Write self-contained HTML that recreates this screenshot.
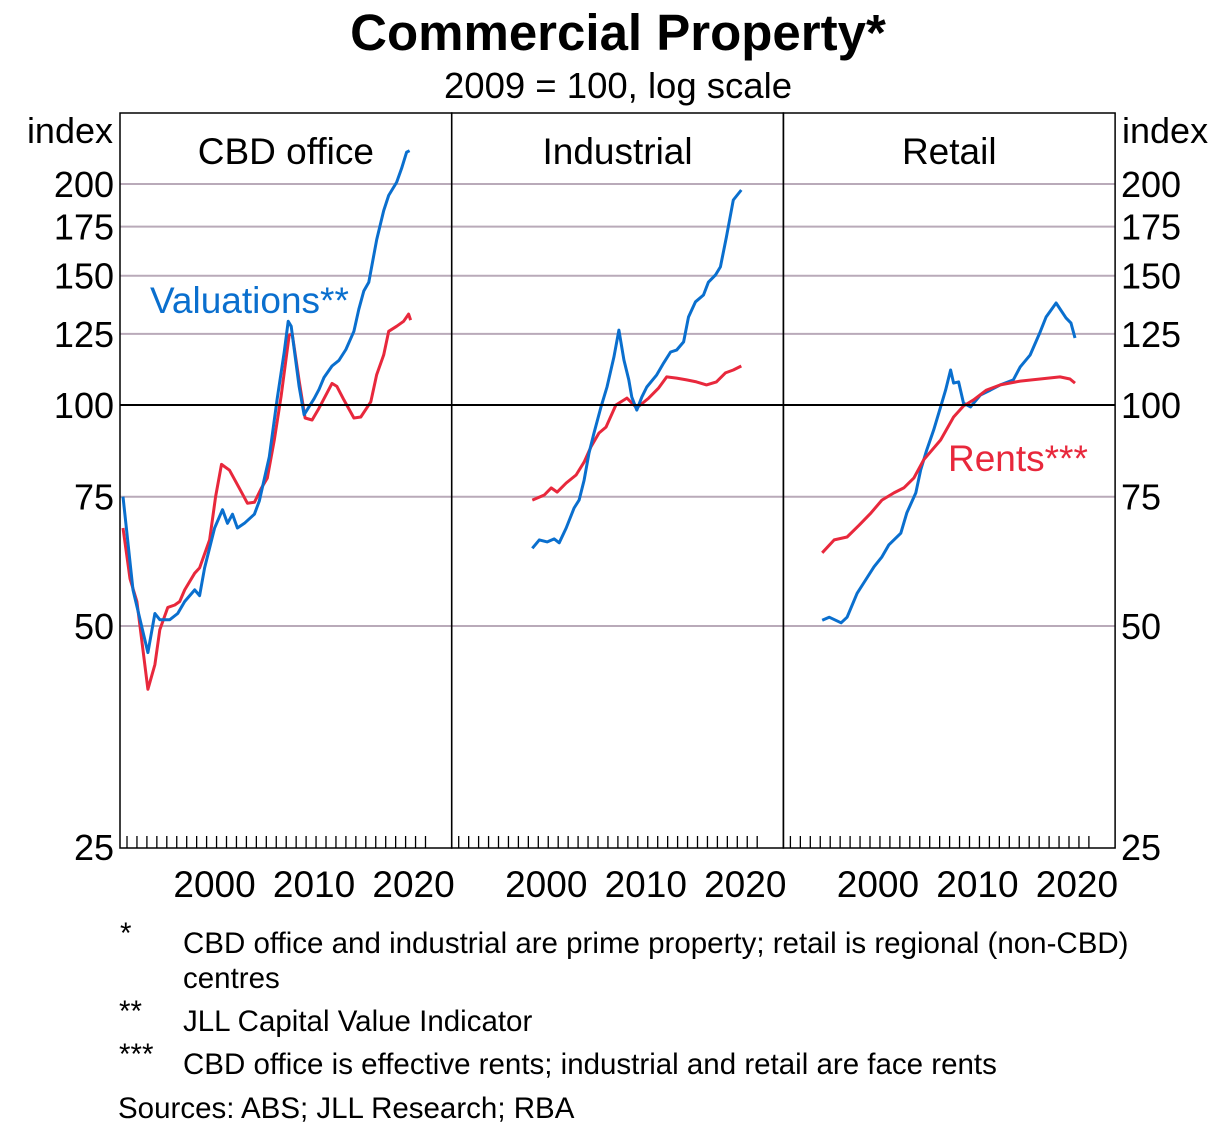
<!DOCTYPE html>
<html><head><meta charset="utf-8"><style>
body{margin:0;background:#fff;}
svg{display:block;font-family:"Liberation Sans",Arial,sans-serif;}
</style></head><body>
<svg id="chart" width="1224" height="1133" viewBox="0 0 1224 1133" xmlns="http://www.w3.org/2000/svg">
<text x="618" y="50" font-size="51" font-weight="bold" text-anchor="middle">Commercial Property*</text>
<text x="618" y="98" font-size="36.5" text-anchor="middle">2009 = 100, log scale</text>
<text x="113" y="143" font-size="36" text-anchor="end">index</text>
<text x="1122" y="143" font-size="36">index</text>
<g id="grid"></g>
<g id="series"></g>
<g id="frame"></g>
<text x="150" y="313" font-size="37" fill="#0a6fce">Valuations**</text>
<text x="948" y="471" font-size="37" fill="#e8283c">Rents***</text>
<g font-size="29.5">
<text x="120" y="943">*</text>
<text x="183" y="953">CBD office and industrial are prime property; retail is regional (non-CBD)</text>
<text x="183" y="988">centres</text>
<text x="119" y="1021">**</text>
<text x="183" y="1031">JLL Capital Value Indicator</text>
<text x="119" y="1064">***</text>
<text x="183" y="1074">CBD office is effective rents; industrial and retail are face rents</text>
<text x="118" y="1118">Sources: ABS; JLL Research; RBA</text>
</g>
</svg>
<script>
const yTicks=[25,50,75,100,125,150,175,200];
const panelTitles=["CBD office","Industrial","Retail"];
const yearLabels=[2000,2010,2020];
const cbdValYears=[1990.6,1991.6,1993.1,1993.8,1994.3,1995.3,1996.1,1996.8,1997.8,1998.3,1998.8,1999.8,2000.6,2001.1,2001.6,2002.1,2002.8,2003.8,2004.3,2005.3,2006.1,2006.8,2007.2,2007.5,2008.3,2008.8,2009.8,2010.3,2010.8,2011.6,2012.3,2013,2013.8,2014.3,2014.8,2015.3,2016.1,2016.8,2017.3,2018.1,2018.6,2019.1,2019.4];
const cbdVal=[75,56,46,52,51,51,52,54,56,55,60,68,72,69,71,68,69,71,74,85,102,118,130,128,106,97,102,105,109,113,115,119,126,135,143,147,168,184,193,201,210,221,222];
const cbdRentYears=[1990.6,1991.3,1992,1993.1,1993.8,1994.3,1995.1,1995.8,1996.3,1996.8,1997.8,1998.3,1999.3,1999.9,2000.5,2001.3,2002.3,2003.1,2003.8,2004.5,2005.1,2005.8,2006.5,2007.3,2007.6,2008.3,2008.9,2009.6,2010.3,2011.6,2012.1,2012.8,2013.8,2014.5,2015.5,2016.1,2016.8,2017.3,2018.1,2018.8,2019.3,2019.5];
const cbdRent=[68,58,54,41,44.3,49.4,53,53.4,54,56,59,60,65.5,75,83,81.5,77,73.5,73.7,77,79.5,89.6,103,124.5,125,108,96,95.4,99,107,106,101.6,96,96.3,101,110,117,126,128,130,133,130.5];
const indValYears=[1998.4,1999.1,1999.9,2000.6,2001.1,2001.8,2002.6,2003.1,2003.6,2004.1,2004.6,2005.3,2005.9,2006.6,2007.1,2007.6,2008.1,2008.4,2008.9,2009.4,2009.9,2010.9,2011.6,2012.3,2012.9,2013.6,2014.1,2014.8,2015.6,2016.1,2016.8,2017.3,2017.9,2018.6,2019.4];
const indVal=[63.8,65.5,65.1,65.7,64.9,68,72.4,74.2,79,86,91.6,99.4,105.8,116.2,126.5,115.2,108.2,102.5,98.4,102.5,105.8,109.9,114.1,118.1,118.8,121.9,131.8,138.2,141.2,147,150.3,154.2,169.3,190.2,196.3];
const indRentYears=[1998.4,1999.6,2000.3,2000.9,2001.8,2002.8,2003.6,2004.3,2005.1,2005.8,2006.8,2007.9,2008.9,2010.1,2011.1,2011.9,2012.9,2013.9,2014.9,2015.9,2016.9,2017.8,2018.6,2019.4];
const indRent=[74.2,75.4,77.1,76.1,78.3,80.3,83.6,87.7,91.6,93.3,100,102.2,99.1,102.2,105.5,109.2,108.8,108.2,107.5,106.5,107.5,110.6,111.6,113];
const retValYears=[1994.2,1994.9,1996.1,1996.7,1997.7,1998.4,1999.4,2000.2,2000.9,2002.1,2002.7,2003.6,2004.1,2004.7,2005.4,2006.1,2006.6,2007.1,2007.4,2007.9,2008.4,2009.1,2010.1,2011.1,2012.1,2013.4,2014.1,2015.1,2016.1,2016.7,2017.7,2018.7,2019.2,2019.6];
const retVal=[50.9,51.4,50.5,51.4,55.4,57.3,60.2,62.1,64.5,66.9,71.3,75.9,81.6,86.8,92.5,99.4,104.8,111.6,107.1,107.5,100.6,99.4,103.2,104.8,106.5,108.2,112.7,117,125.7,131.8,137.7,131.4,129.3,123.4];
const retRentYears=[1994.2,1995.4,1996.7,1997.9,1999.1,2000.2,2001.4,2002.4,2003.4,2004.4,2006.1,2007.4,2008.4,2009.4,2010.7,2012.1,2014.1,2016.1,2018.1,2019.1,2019.6];
const retRent=[62.9,65.5,66.1,68.6,71.3,74.2,75.9,77.1,79.5,84.2,89.6,96.3,99.7,101.6,104.8,106.5,107.8,108.5,109.2,108.5,107.1];

const NS="http://www.w3.org/2000/svg";
const L=120,T=113,B=848,PW=331.7;
function yScale(v){return 405-221*Math.log2(v/100);}
function xScale(p,yr){return L+p*PW+7+(yr-1991)*9.95;}
function mk(tag,attrs,parent){const e=document.createElementNS(NS,tag);for(const k in attrs)e.setAttribute(k,attrs[k]);parent.appendChild(e);return e;}
const grid=document.getElementById('grid'),series=document.getElementById('series'),frame=document.getElementById('frame'),svg=document.getElementById('chart');
yTicks.forEach(v=>{
  const y=yScale(v);
  if(v!==25&&v!==100){
    const g=mk('line',{x1:L,x2:L+3*PW,y1:y,y2:y,stroke:'#b9aab9','stroke-width':2},grid);
    
    
  }
  const t1=mk('text',{x:114,y:y+13,'font-size':36,'text-anchor':'end'},svg);t1.textContent=v;
  
  
  const t2=mk('text',{x:1121,y:y+13,'font-size':36},svg);t2.textContent=v;
  
  
});
const baseLine=mk('line',{x1:L,x2:L+3*PW,y1:yScale(100),y2:yScale(100),stroke:'#000','stroke-width':2},frame);


for(let p=0;p<3;p++){
  const r=mk('rect',{x:L+p*PW,y:T,width:PW,height:B-T,fill:'none',stroke:'#000','stroke-width':1.5},frame);
  
  
  const tt=mk('text',{x:L+p*PW+PW/2,y:164,'font-size':37,'text-anchor':'middle'},svg);tt.textContent=panelTitles[p];
  
  
  for(let yr=1991;yr<=2021;yr++){
    const x=xScale(p,yr);
    const tk=mk('line',{x1:x,x2:x,y1:B,y2:B-12,stroke:'#000','stroke-width':1.3},frame);
    
    
  }
  yearLabels.forEach(yr=>{
    const lt=mk('text',{x:xScale(p,yr)-2,y:897,'font-size':37,'text-anchor':'middle'},svg);lt.textContent=yr;
    
    
  });
}
function line(p,yrs,vals,color,name){
  const d=yrs.map((yr,i)=>(i?'L':'M')+xScale(p,yr).toFixed(1)+' '+yScale(vals[i]).toFixed(1)).join(' ');
  const e=mk('path',{d:d,fill:'none',stroke:color,'stroke-width':3,'stroke-linejoin':'round'},series);
  
  
}
const BLUE='#0a6fce',RED='#e8283c';
line(0,cbdRentYears,cbdRent,RED,'cbd-rents-line');
line(0,cbdValYears,cbdVal,BLUE,'cbd-valuations-line');
line(1,indRentYears,indRent,RED,'industrial-rents-line');
line(1,indValYears,indVal,BLUE,'industrial-valuations-line');
line(2,retValYears,retVal,BLUE,'retail-valuations-line');
line(2,retRentYears,retRent,RED,'retail-rents-line');
</script>
</body></html>
